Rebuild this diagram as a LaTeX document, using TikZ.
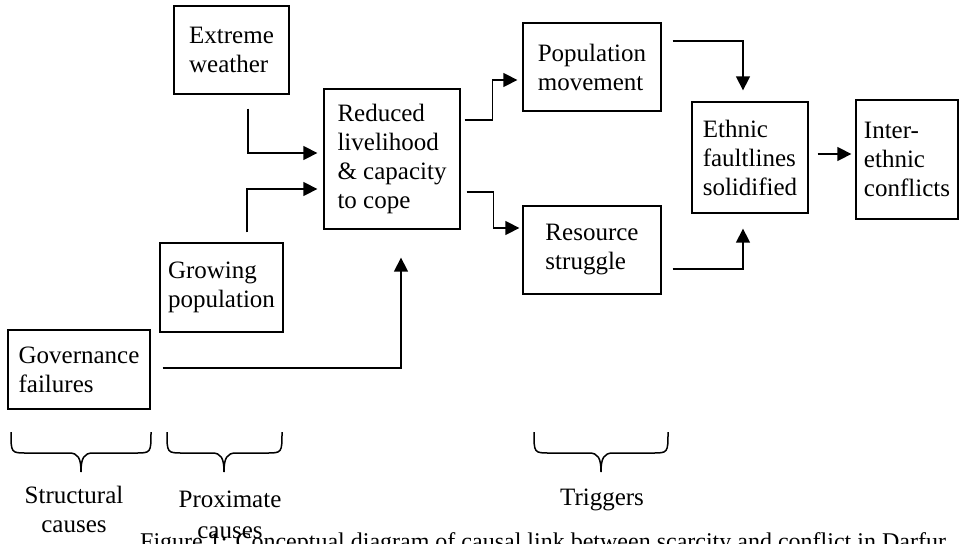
\documentclass[tikz,border=0pt]{standalone}
\usepackage{fontspec}
\setmainfont{Liberation Serif}
\usetikzlibrary{arrows.meta,calc}
\begin{document}
\begin{tikzpicture}[x=1pt,y=-1pt,
  box/.style={draw=black,line width=1.3pt,align=left,inner sep=0pt,
    font=\fontsize{25}{29}\selectfont},
  arr/.style={line width=1.4pt,-{Triangle[length=14pt,width=14pt]}},
  brace/.style={line width=1.5pt},
  lbl/.style={font=\fontsize{25}{29}\selectfont,inner sep=0pt,anchor=base},
  captxt/.style={font=\fontsize{24}{28}\selectfont,inner sep=0pt,anchor=base west}]
\useasboundingbox (0,0) rectangle (960,543);
% boxes
\node[box,minimum width=115pt,minimum height=88pt] (ew) at (231.5,50) {Extreme\\weather};
\node[box,minimum width=123pt,minimum height=89pt] (gp) at (221.5,287.5) {Growing\\population};
\node[box,minimum width=142pt,minimum height=79pt] (gf) at (79,369.5) {Governance\\failures};
\node[box,minimum width=136pt,minimum height=140pt] (rl) at (392,159) {Reduced\\livelihood\\\& capacity\\to cope};
\node[box,minimum width=138pt,minimum height=88pt] (pm) at (592,67) {Population\\movement};
\node[box,minimum width=138pt,minimum height=88pt] (rs) at (592,250) {Resource\\struggle};
\node[box,minimum width=116pt,minimum height=111pt] (ef) at (750,157.5) {Ethnic\\faultlines\\solidified};
\node[box,minimum width=102pt,minimum height=119pt] (ic) at (907,159.5) {Inter-\\ethnic\\conflicts};
% connector start points
\coordinate (ews) at ($(ew.south)+(16.5,14)$);
\coordinate (gps) at ($(gp.north)+(25.5,-10)$);
\coordinate (gfs) at ($(gf.east)+(12,-1.5)$);
\coordinate (rlu) at ($(rl.east)+(4,-39)$);
\coordinate (rld) at ($(rl.east)+(6,33)$);
\coordinate (pms) at ($(pm.east)+(11,-26)$);
\coordinate (rss) at ($(rs.east)+(11,19)$);
\coordinate (efs) at ($(ef.east)+(9,-3.5)$);
% connectors
\draw[arr,shorten >=6pt] (ews) |- ($(rl.west)+(0,-6)$);
\draw[arr,shorten >=6pt] (gps) |- ($(rl.west)+(0,30)$);
\draw[arr,shorten >=28pt] (gfs) -| ($(rl.south)+(9,0)$);
\draw[arr,shorten >=5pt] (rlu) -| ($(rlu)+(28,-20)$) |- ($(pm.west)+(0,13)$);
\draw[arr,shorten >=3pt] (rld) -| ($(rld)+(27,18)$) |- ($(rs.west)+(0,-22)$);
\draw[arr,shorten >=11pt] (pms) -| ($(ef.north)+(-7,0)$);
\draw[arr,shorten >=15pt] (rss) -| ($(ef.south)+(-7,0)$);
\draw[arr,shorten >=4pt] (efs) -- (efs -| ic.west);
% braces
\draw[brace] (11,432) .. controls (11,453) and (11,453) .. (27,453) -- (69,453)
  .. controls (78,453) and (81,458) .. (81,472)
  .. controls (81,458) and (84,453) .. (93,453) -- (135,453)
  .. controls (151,453) and (151,453) .. (151,432);
\draw[brace] (167,432) .. controls (167,453) and (167,453) .. (183,453) -- (212,453)
  .. controls (221,453) and (224,458) .. (224,472)
  .. controls (224,458) and (227,453) .. (236,453) -- (266,453)
  .. controls (282,453) and (282,453) .. (282,432);
\draw[brace] (534,432) .. controls (534,453) and (534,453) .. (550,453) -- (589,453)
  .. controls (598,453) and (601,458) .. (601,472)
  .. controls (601,458) and (604,453) .. (613,453) -- (652,453)
  .. controls (668,453) and (668,453) .. (668,432);
% labels
\node[lbl] (sc1) at (74,503) {Structural};
\node[lbl] (sc2) at (74,532) {causes};
\node[lbl] (pc1) at (230,507) {Proximate};
\node[lbl] (pc2) at (230,538) {causes};
\node[lbl] (tr) at (602,505) {Triggers};
\node[captxt] (caption) at (140,549) {Figure 1: Conceptual diagram of causal link between scarcity and conflict in Darfur};
\end{tikzpicture}
\end{document}
